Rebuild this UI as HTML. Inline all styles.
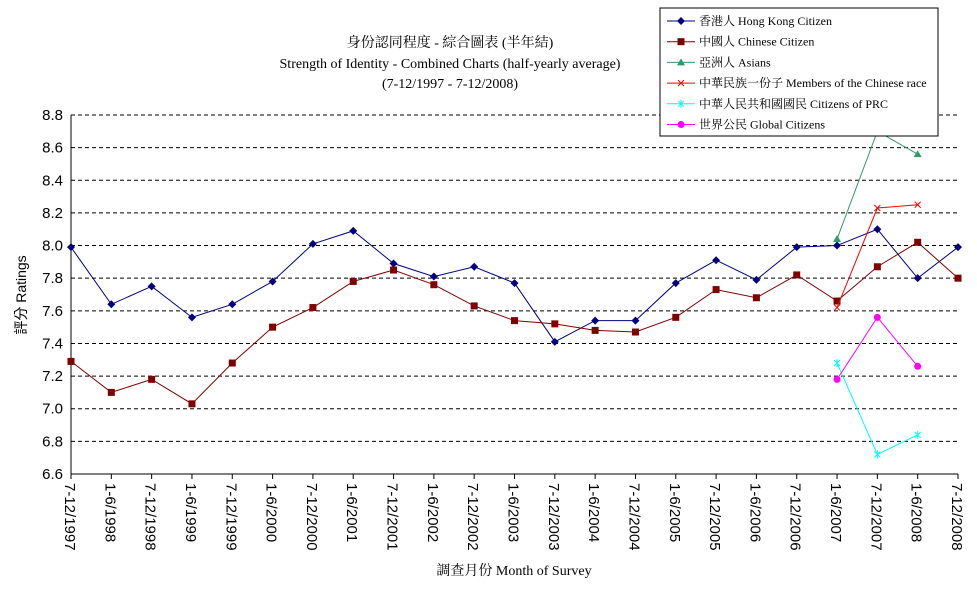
<!DOCTYPE html>
<html><head><meta charset="utf-8"><style>
body{margin:0;background:#fff;}
svg text{font-family:"Liberation Serif","Noto Serif CJK SC","Noto Sans CJK TC",serif;fill:#000;}
svg text.sans{font-family:"Liberation Sans","Noto Sans CJK TC",sans-serif;}
</style></head><body>
<svg id="chart" width="977" height="600" xmlns="http://www.w3.org/2000/svg">
<text x="450" y="47" font-size="14" text-anchor="middle">身份認同程度 - 綜合圖表 (半年結)</text>
<text x="450" y="68" font-size="14" text-anchor="middle">Strength of Identity - Combined Charts (half-yearly average)</text>
<text x="450" y="88" font-size="14" text-anchor="middle">(7-12/1997 - 7-12/2008)</text>
<text class="sans" transform="translate(26,295) rotate(-90)" font-size="14" text-anchor="middle">評分 Ratings</text>
<text x="514" y="575" font-size="14" text-anchor="middle">調查月份 Month of Survey</text>
<g id="grid"></g><g id="axes"></g><g id="series"></g>
<g>
<rect x="660" y="8" width="278" height="128" fill="#fff" stroke="#000" stroke-width="1"/>
<g id="legend"></g>
</g>
</svg>
<script>
const categories=["7-12/1997","1-6/1998","7-12/1998","1-6/1999","7-12/1999","1-6/2000","7-12/2000","1-6/2001","7-12/2001","1-6/2002","7-12/2002","1-6/2003","7-12/2003","1-6/2004","7-12/2004","1-6/2005","7-12/2005","1-6/2006","7-12/2006","1-6/2007","7-12/2007","1-6/2008","7-12/2008"];
const yTicks=["6.6","6.8","7.0","7.2","7.4","7.6","7.8","8.0","8.2","8.4","8.6","8.8"];
const hkCitizen=[7.99,7.64,7.75,7.56,7.64,7.78,8.01,8.09,7.89,7.81,7.87,7.77,7.41,7.54,7.54,7.77,7.91,7.79,7.99,8.00,8.10,7.80,7.99];
const chineseCitizen=[7.29,7.10,7.18,7.03,7.28,7.50,7.62,7.78,7.85,7.76,7.63,7.54,7.52,7.48,7.47,7.56,7.73,7.68,7.82,7.66,7.87,8.02,7.80];
const asians=[null,null,null,null,null,null,null,null,null,null,null,null,null,null,null,null,null,null,null,8.04,8.70,8.56,null];
const chineseRace=[null,null,null,null,null,null,null,null,null,null,null,null,null,null,null,null,null,null,null,7.62,8.23,8.25,null];
const prcCitizens=[null,null,null,null,null,null,null,null,null,null,null,null,null,null,null,null,null,null,null,7.28,6.72,6.84,null];
const globalCitizens=[null,null,null,null,null,null,null,null,null,null,null,null,null,null,null,null,null,null,null,7.18,7.56,7.26,null];
const seriesNames=["香港人 Hong Kong Citizen","中國人 Chinese Citizen","亞洲人 Asians","中華民族一份子 Members of the Chinese race","中華人民共和國國民 Citizens of PRC","世界公民 Global Citizens"];

const NS="http://www.w3.org/2000/svg";
const X0=71,X1=958,Y0=474,Y1=115,VMIN=6.6,VMAX=8.8;
function xs(i){return X0+(X1-X0)*i/(categories.length-1);}
function ys(v){return Y0-(v-VMIN)/(VMAX-VMIN)*(Y0-Y1);}
function mk(tag,attrs,parent){const e=document.createElementNS(NS,tag);for(const k in attrs)e.setAttribute(k,attrs[k]);parent.appendChild(e);return e;}
const grid=document.getElementById('grid'),axes=document.getElementById('axes'),ser=document.getElementById('series'),leg=document.getElementById('legend');
yTicks.forEach(t=>{const v=parseFloat(t),y=ys(v);
 if(v>VMIN){const l=mk('line',{x1:X0,x2:X1,y1:y,y2:y,stroke:'#000','stroke-dasharray':'4,3','stroke-width':1},grid);
 
 }
 const tx=mk('text',{x:X0-8,y:y+5,'font-size':15,'text-anchor':'end','class':'sans'},axes);tx.textContent=t;
 
 
});
const ya=mk('line',{x1:X0,x2:X0,y1:Y1,y2:Y0,stroke:'#000'},axes);


const xa=mk('line',{x1:X0,x2:X1,y1:Y0,y2:Y0,stroke:'#000'},axes);


categories.forEach((c,i)=>{const x=xs(i);
 mk('line',{x1:x,x2:x,y1:Y0,y2:Y0+5,stroke:'#000'},axes);
 const t=mk('text',{transform:`translate(${x-6},${Y0+9}) rotate(90)`,'font-size':15,'class':'sans'},axes);t.textContent=c;
 
 
});
const defs=[{d:hkCitizen,c:'#000080',m:'diamond',n:'hk-citizen'},{d:chineseCitizen,c:'#800000',m:'square',n:'chinese-citizen'},{d:asians,c:'#339966',m:'triangle',n:'asians'},{d:chineseRace,c:'#ff0000',m:'x',n:'chinese-race'},{d:prcCitizens,c:'#00ffff',m:'star',n:'prc-citizens'},{d:globalCitizens,c:'#ff00ff',m:'circle',n:'global-citizens'}];
function marker(m,x,y,c,p){
 if(m==='diamond')return mk('polygon',{points:`${x},${y-4} ${x+4},${y} ${x},${y+4} ${x-4},${y}`,fill:c},p);
 if(m==='square')return mk('rect',{x:x-3.5,y:y-3.5,width:7,height:7,fill:c},p);
 if(m==='triangle')return mk('polygon',{points:`${x},${y-4} ${x+4},${y+3} ${x-4},${y+3}`,fill:c},p);
 if(m==='circle')return mk('circle',{cx:x,cy:y,r:3.5,fill:c},p);
 if(m==='x')return mk('path',{d:`M${x-3},${y-3}L${x+3},${y+3}M${x-3},${y+3}L${x+3},${y-3}`,stroke:c,fill:'none'},p);
 return mk('path',{d:`M${x-3},${y-3}L${x+3},${y+3}M${x-3},${y+3}L${x+3},${y-3}M${x},${y-4}L${x},${y+4}`,stroke:c,fill:'none'},p);
}
defs.forEach((s,si)=>{
 const g=mk('g',{},ser);
 
 
 let pts=[];s.d.forEach((v,i)=>{if(v!=null)pts.push([xs(i),ys(v)]);});
 const pl=mk('polyline',{points:pts.map(p=>p.join(',')).join(' '),fill:'none',stroke:s.c,'stroke-width':1},g);
 
 
 pts.forEach(p=>{const e=marker(s.m,p[0],p[1],s.c,g);
  
  });
 const ly=21+si*20.7;
 const lg=mk('g',{},leg);
 
 
 mk('line',{x1:667,x2:695,y1:ly,y2:ly,stroke:s.c},lg);
 marker(s.m,681,ly,s.c,lg);
 const t=mk('text',{x:699,y:ly+4,'font-size':12},lg);t.textContent=seriesNames[si];
});
</script>
</body></html>
